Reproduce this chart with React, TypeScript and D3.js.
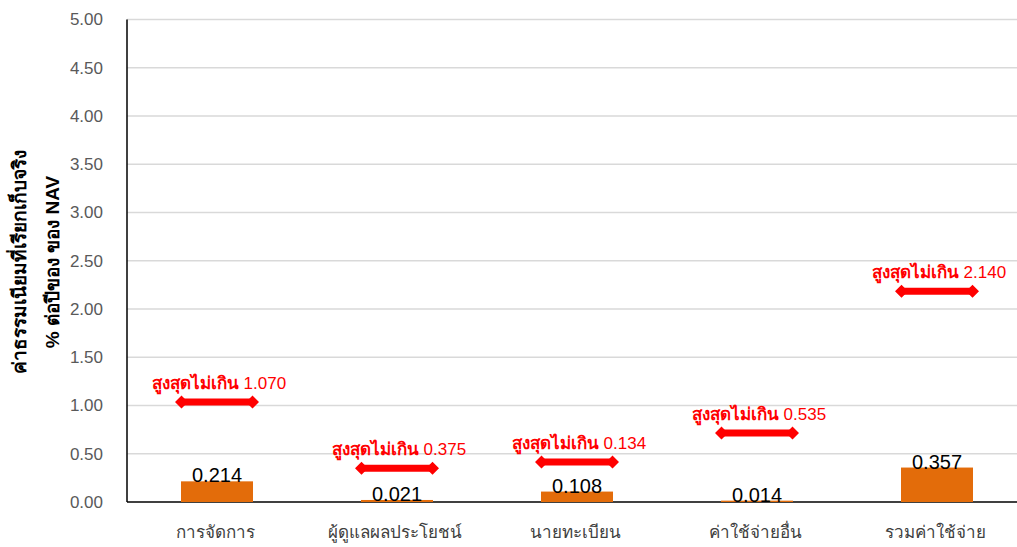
import * as d3 from 'd3';
import React from 'react';

const categories = ['การจัดการ', 'ผู้ดูแลผลประโยชน์', 'นายทะเบียน', 'ค่าใช้จ่ายอื่น', 'รวมค่าใช้จ่าย'];
const actualFees = [0.214, 0.021, 0.108, 0.014, 0.357];
const maxFees = ['1.070', '0.375', '0.134', '0.535', '2.140'];
// where the red markers sit on the y scale (they are placed by hand in the source)
const markerLevels = [1.035, 0.35, 0.415, 0.715, 2.185];
const yTicks = [0, 0.5, 1, 1.5, 2, 2.5, 3, 3.5, 4, 4.5, 5];

const width = 1017;
const height = 547;
const margin = { top: 19.5, right: -10, bottom: 45, left: 127 };

const App = () => {
	const innerWidth = width - margin.left - margin.right;
	const innerHeight = height - margin.top - margin.bottom;

	const xScale = d3.scaleBand<string>().domain(categories).range([0, innerWidth]).paddingInner(0.6).paddingOuter(0.3);
	const yScale = d3.scaleLinear().domain([0, 5]).range([innerHeight, 0]);

	const arrowHalf = 42;
	const thai = "'Liberation Sans', Arial, sans-serif";

	return (
		<svg width={width} height={height} style={{ position: 'absolute', left: 0, top: 0, background: '#fff' }}>
			<g transform={`translate(${margin.left},${margin.top})`}>
				{yTicks.map(t => (
					<g key={t} transform={`translate(0,${yScale(t)})`}>
						{t > 0 && <line x2={innerWidth} stroke="#d9d9d9" strokeWidth={1.5} />}
						<text x={-24} dy="0.35em" textAnchor="end" fontSize={17} fill="#595959" fontFamily={thai}>
							{d3.format('.2f')(t)}
						</text>
					</g>
				))}
				<line y1={0} y2={innerHeight} stroke="#000" strokeWidth={1.5} />
				<line x1={0} x2={innerWidth} y1={innerHeight} y2={innerHeight} stroke="#000" strokeWidth={1.5} />

				{categories.map((c, i) => {
					const x = xScale(c) ?? 0;
					const cx = x + xScale.bandwidth() / 2;
					const v = actualFees[i];
					const my = yScale(markerLevels[i]);
					return (
						<g key={c}>
							<rect x={x} y={yScale(v)} width={xScale.bandwidth()} height={innerHeight - yScale(v)} fill="#E36C0A" />
							<text x={cx} y={yScale(v) + 1} textAnchor="middle" fontSize={20} fill="#000" fontFamily={thai}>
								{v.toFixed(3)}
							</text>
							<text x={cx - 2} y={innerHeight + 36} textAnchor="middle" fontSize={17} fill="#404040" fontFamily={thai}>
								{c}
							</text>
							<line x1={cx - arrowHalf + 5} x2={cx + arrowHalf - 5} y1={my} y2={my} stroke="#ff0000" strokeWidth={7} />
							<path
								d={`M${cx - arrowHalf},${my} l6.5,-6.5 l6.5,6.5 l-6.5,6.5 Z M${cx + arrowHalf},${my} l-6.5,-6.5 l-6.5,6.5 l6.5,6.5 Z`}
								fill="#ff0000"
							/>
							<text x={cx + 2} y={my - 13} textAnchor="middle" fontSize={17} fill="#ff0000" fontFamily={thai}>
								<tspan fontWeight="bold">สูงสุดไม่เกิน</tspan>
								<tspan>{` ${maxFees[i]}`}</tspan>
							</text>
						</g>
					);
				})}
			</g>
			<text
				transform={`translate(26,262) rotate(-90)`}
				textAnchor="middle"
				fontSize={19}
				fontWeight="bold"
				fill="#000"
				fontFamily={thai}
			>
				<tspan x={0} dy={0}>ค่าธรรมเนียมที่เรียกเก็บจริง</tspan>
				<tspan x={0} dy={33}>% ต่อปีของ ของ NAV</tspan>
			</text>
		</svg>
	);
};

export default App;
